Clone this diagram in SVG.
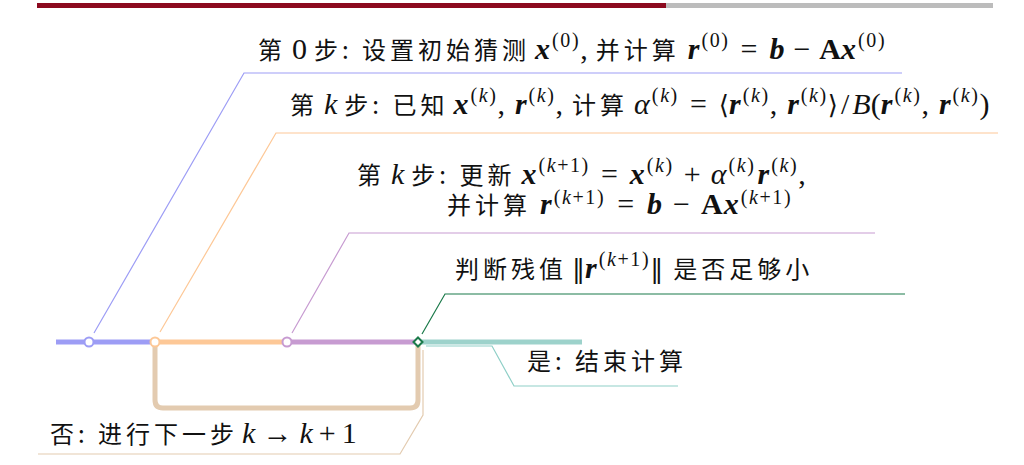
<svg xmlns="http://www.w3.org/2000/svg" width="1024" height="465" viewBox="0 0 1024 465">
<style>
text{font-size:24px;fill:#111}
.c{font-family:"Noto Sans CJK SC","Noto Sans CJK JP",sans-serif;font-size:24px;letter-spacing:4px}
.m{font-family:"Liberation Serif","DejaVu Serif",serif;font-size:30px;letter-spacing:0}
.v{font-family:"Liberation Serif","DejaVu Serif",serif;font-size:30px;font-weight:bold;font-style:italic;letter-spacing:0}
.b{font-family:"Liberation Serif","DejaVu Serif",serif;font-size:30px;font-weight:bold;letter-spacing:0}
.i{font-family:"Liberation Serif","DejaVu Serif",serif;font-size:30px;font-style:italic;letter-spacing:0}
.d{font-family:"DejaVu Serif",serif;font-size:26px;letter-spacing:0}
.s{font-family:"Liberation Serif","DejaVu Serif",serif;font-size:20px;letter-spacing:1.6px}
.si{font-style:italic}
.lead{fill:none;stroke-width:1.2}
.main{fill:none;stroke-width:5}
.st{fill:#fff;stroke-width:2}
</style>
<rect x="37" y="3" width="629" height="5" fill="#8c0a1f"/>
<rect x="666" y="3" width="327" height="5" fill="#bcbcbc"/>
<g id="connectors">
<path class="main" d="M155,342 V400 Q155,408 163,408 H410 Q418,408 418,400 V342" stroke="#e3cbb0"/>
<path class="main" d="M56,342 H155" stroke="#9d9df5"/>
<path class="main" d="M155,342 H287" stroke="#fdc897"/>
<path class="main" d="M287,342 H418" stroke="#c79bd1"/>
<path class="main" d="M418,342 H582" stroke="#9dd2cb"/>
<path class="lead" d="M94,333 L244,73 H902" stroke="#9d9df5"/>
<path class="lead" d="M160,332 L276,133 H998" stroke="#fdc897"/>
<path class="lead" d="M292,333 L349,233 H875" stroke="#c79bd1"/>
<path class="lead" d="M422,334 L445,294 H905" stroke="#1b7a4a"/>
<path class="lead" d="M426,346 H492 L514,386 H678" stroke="#8fcfc7"/>
<path class="lead" d="M423,350 V415 L400,454 H38" stroke="#e3cbb0"/>
</g>
<g id="step0">
<circle class="st" cx="89" cy="342" r="4.5" stroke="#9d9df5"/>
<text x="258" y="59"><tspan class="c">第</tspan><tspan class="m" dx="6">0</tspan><tspan class="c" dx="7">步: 设置初始猜测</tspan><tspan class="v" dx="5">x</tspan><tspan class="s" dy="-12" dx="2">(0)</tspan><tspan class="m" dy="12">,</tspan><tspan class="c" dx="8">并计算</tspan><tspan class="v" dx="8">r</tspan><tspan class="s" dy="-12" dx="2">(0)</tspan><tspan class="m" dy="12" dx="11">=</tspan><tspan class="v" dx="12">b</tspan><tspan class="m" dx="9">−</tspan><tspan class="b" dx="9">A</tspan><tspan class="v">x</tspan><tspan class="s" dy="-12" dx="2">(0)</tspan></text>
</g>
<g id="stepk-alpha">
<circle class="st" cx="155" cy="342" r="4.5" stroke="#fdc897"/>
<text x="290" y="114"><tspan class="c">第</tspan><tspan class="i" dx="6">k</tspan><tspan class="c" dx="7">步: 已知</tspan><tspan class="v" dx="5">x</tspan><tspan class="s" dy="-12" dx="2">(<tspan class="si">k</tspan>)</tspan><tspan class="m" dy="12">,</tspan><tspan class="v" dx="10">r</tspan><tspan class="s" dy="-12" dx="2">(<tspan class="si">k</tspan>)</tspan><tspan class="m" dy="12">,</tspan><tspan class="c" dx="9">计算</tspan><tspan class="i" dx="6">α</tspan><tspan class="s" dy="-12" dx="2">(<tspan class="si">k</tspan>)</tspan><tspan class="m" dy="12" dx="11">=</tspan><tspan class="d" dx="12">⟨</tspan><tspan class="v">r</tspan><tspan class="s" dy="-12" dx="2">(<tspan class="si">k</tspan>)</tspan><tspan class="m" dy="12">,</tspan><tspan class="v" dx="10">r</tspan><tspan class="s" dy="-12" dx="2">(<tspan class="si">k</tspan>)</tspan><tspan class="d" dy="12">⟩</tspan><tspan class="m" dx="3">/</tspan><tspan class="i" dx="3">B</tspan><tspan class="m">(</tspan><tspan class="v">r</tspan><tspan class="s" dy="-12" dx="2">(<tspan class="si">k</tspan>)</tspan><tspan class="m" dy="12">,</tspan><tspan class="v" dx="10">r</tspan><tspan class="s" dy="-12" dx="2">(<tspan class="si">k</tspan>)</tspan><tspan class="m" dy="12">)</tspan></text>
</g>
<g id="stepk-update">
<circle class="st" cx="287" cy="342" r="4.5" stroke="#c79bd1"/>
<text x="357" y="184"><tspan class="c">第</tspan><tspan class="i" dx="6">k</tspan><tspan class="c" dx="7">步: 更新</tspan><tspan class="v" dx="6">x</tspan><tspan class="s" dy="-12" dx="2">(<tspan class="si">k</tspan>+1)</tspan><tspan class="m" dy="12" dx="11">=</tspan><tspan class="v" dx="12">x</tspan><tspan class="s" dy="-12" dx="2">(<tspan class="si">k</tspan>)</tspan><tspan class="m" dy="12" dx="10">+</tspan><tspan class="i" dx="10">α</tspan><tspan class="s" dy="-12" dx="2">(<tspan class="si">k</tspan>)</tspan><tspan class="v" dy="12" dx="2">r</tspan><tspan class="s" dy="-12" dx="2">(<tspan class="si">k</tspan>)</tspan><tspan class="m" dy="12">,</tspan></text>
<text x="447" y="214"><tspan class="c">并计算</tspan><tspan class="v" dx="9">r</tspan><tspan class="s" dy="-10" dx="2">(<tspan class="si">k</tspan>+1)</tspan><tspan class="m" dy="10" dx="12">=</tspan><tspan class="v" dx="13">b</tspan><tspan class="m" dx="11">−</tspan><tspan class="b" dx="11">A</tspan><tspan class="v" dx="1">x</tspan><tspan class="s" dy="-10" dx="2">(<tspan class="si">k</tspan>+1)</tspan></text>
</g>
<g id="check">
<path class="st" d="M418,337.5 L422.5,342 L418,346.5 L413.5,342 Z" stroke="#1b7a4a"/>
<text x="455" y="278"><tspan class="c">判断残值</tspan><tspan class="d" dx="5">‖</tspan><tspan class="v">r</tspan><tspan class="s" dy="-12" dx="2">(<tspan class="si">k</tspan>+1)</tspan><tspan class="d" dy="12">‖</tspan><tspan class="c" dx="10">是否足够小</tspan></text>
</g>
<g id="yes">
<text x="527" y="370" class="c">是: 结束计算</text>
</g>
<g id="no">
<text x="50" y="443"><tspan class="c">否: 进行下一步</tspan><tspan class="i" dx="4">k</tspan><tspan class="m" dx="7">→</tspan><tspan class="i" dx="7">k</tspan><tspan class="m" dx="6">+</tspan><tspan class="m" dx="6">1</tspan></text>
</g>
</svg>
